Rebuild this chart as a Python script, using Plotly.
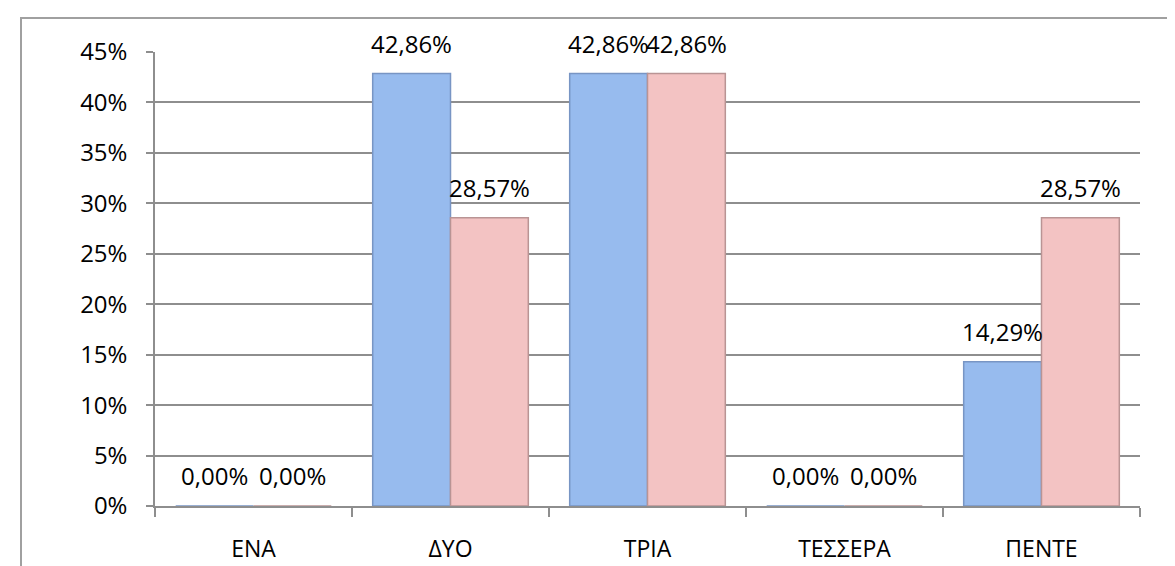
import plotly.graph_objects as go

categories = ["ΕΝΑ", "ΔΥΟ", "ΤΡΙΑ", "ΤΕΣΣΕΡΑ", "ΠΕΝΤΕ"]
series_a = [0.00, 42.86, 42.86, 0.00, 14.29]
series_b = [0.00, 28.57, 42.86, 0.00, 28.57]
y_ticks = [0, 5, 10, 15, 20, 25, 30, 35, 40, 45]
y_tick_labels = [f"{t}%" for t in y_ticks]

FONT = "Open Sans"
BLUE = "#97BBEE"
BLUE_EDGE = "#7895C4"
PINK = "#F3C3C3"
PINK_EDGE = "#B99494"
GRID = "#8E8E8E"

W, H = 1175, 566
ML, MR, MT, MB = 147, 43, 44, 68
BARGAP = 0.21
plot_w = W - ML - MR
cat_w = plot_w / len(categories)
bar_w = cat_w * (1 - BARGAP) / 2


def fmt(v):
    return f"{v:.2f}".replace(".", ",") + "%"


fig = go.Figure()
fig.add_trace(go.Bar(x=categories, y=series_a, name="A",
                     marker=dict(color=BLUE, line=dict(color=BLUE_EDGE, width=1.5))))
fig.add_trace(go.Bar(x=categories, y=series_b, name="B",
                     marker=dict(color=PINK, line=dict(color=PINK_EDGE, width=1.5))))

annotations = []
for vals, sgn in ((series_a, -1), (series_b, 1)):
    for c, v in zip(categories, vals):
        annotations.append(dict(x=c, y=v, xref="x", yref="y", text=fmt(v),
                                showarrow=False, xanchor="center", yanchor="bottom",
                                xshift=sgn * bar_w / 2, yshift=12,
                                font=dict(family=FONT, size=24, color="#000000")))

fig.update_layout(
    width=W, height=H,
    margin=dict(l=ML, r=MR, t=MT, b=MB, pad=0, autoexpand=False),
    paper_bgcolor="white", plot_bgcolor="white",
    barmode="group", bargap=BARGAP, bargroupgap=0,
    showlegend=False,
    font=dict(family=FONT, size=23, color="#000000"),
    annotations=annotations,
    shapes=[dict(type="rect", xref="paper", yref="paper",
                 x0=(13 - ML) / plot_w, x1=1.2,
                 y0=-0.4, y1=(H - MB - 10) / (H - MT - MB),
                 line=dict(color="#A0A0A0", width=2), layer="below")],
)
fig.update_xaxes(
    type="category", showline=True, linecolor=GRID, linewidth=1.5, automargin=False,
    ticks="outside", tickson="boundaries", ticklen=9, tickcolor=GRID, tickwidth=1.5,
    showgrid=False, tickfont=dict(family=FONT, size=23), ticklabelstandoff=22,
)
fig.update_yaxes(
    range=[0, 45], tickmode="array", tickvals=y_ticks, ticktext=y_tick_labels,
    showline=True, linecolor=GRID, linewidth=1.5, automargin=False,
    ticks="outside", ticklen=7, tickcolor=GRID, tickwidth=1.5,
    showgrid=True, gridcolor=GRID, gridwidth=1.5, zeroline=False,
    tickfont=dict(family=FONT, size=24), ticklabelstandoff=14,
)

fig.write_html("out.html")
